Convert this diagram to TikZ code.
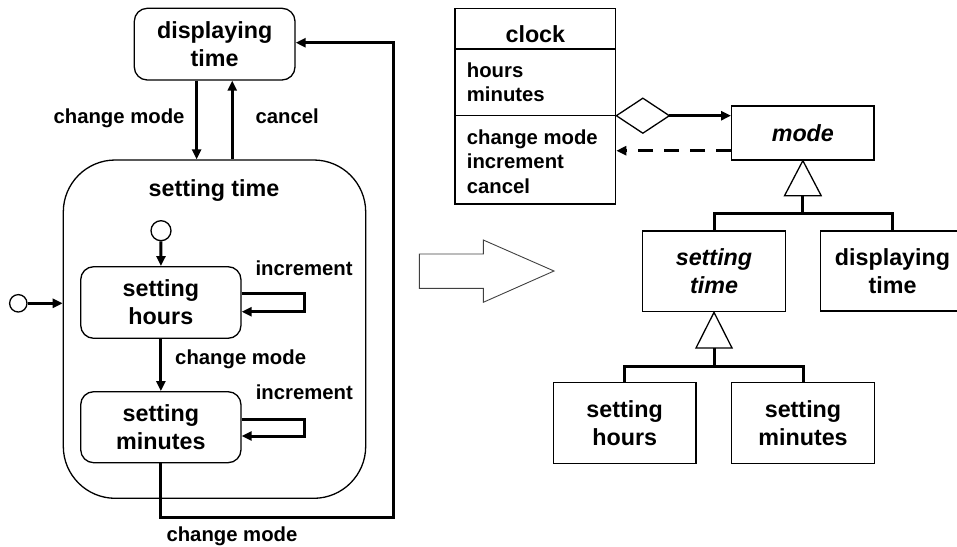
\documentclass[tikz,border=0pt]{standalone}
\usepackage{fontspec}
\setmainfont{Liberation Sans}
\usetikzlibrary{arrows.meta}
\tikzset{
  big/.style={font=\bfseries\fontsize{23.3}{28.3}\selectfont},
  bigit/.style={font=\bfseries\itshape\fontsize{23.3}{28.3}\selectfont},
  small/.style={font=\bfseries\fontsize{20.3}{24.5}\selectfont},
  thin/.style={line width=1.3pt},
  state/.style={draw, thin, rounded corners=13pt, inner sep=0pt, align=center, big},
  cls/.style={draw, thin, inner sep=0pt, align=center, big},
  arr/.style={line width=3pt, -{Triangle[length=10pt,width=9pt]}},
  link/.style={line width=3pt},
  init/.style={circle, draw, thin, fill=white, inner sep=0pt},
  hollow/.style={thin, fill=white, line join=miter}
}
\begin{document}
\begin{tikzpicture}[x=1pt,y=1pt]
\useasboundingbox (0,0) rectangle (957,-546);
\clip (0,0) rectangle (957,-546);

% ---------------- state machine ----------------
\node[state, minimum width=160.7pt, minimum height=71.7pt] (dt) at (214.65,-44.15) {displaying\\time};
\node[draw, thin, rounded corners=52pt, minimum width=302.4pt, minimum height=338.3pt, inner sep=0pt] (st) at (214.5,-329.15) {};
\node[big, anchor=base] (stl) at (214,-196.7) {setting time};
\node[state, minimum width=160.3pt, minimum height=71.6pt] (sh) at (160.85,-302.5) {setting\\hours};
\node[state, minimum width=160.3pt, minimum height=71pt] (sm) at (160.85,-427.2) {setting\\minutes};
\node[init, minimum size=20pt] (i1) at (161,-230.7) {};
\node[init, minimum size=17.4pt] (i0) at (18.3,-303.3) {};

% transitions between displaying and setting time
\coordinate (cmx) at ([xshift=-18pt]dt.south);
\coordinate (cax) at ([xshift=17.6pt]dt.south);
\draw[arr] (cmx) -- (cmx |- st.north);
\draw[arr] (cax |- st.north) -- (cax);
\node[small, anchor=base east] (lcm1) at (188,-123) {change mode};
\node[small, anchor=base west] (lcan) at (252,-123) {cancel};

% initial pseudostates
\draw[arr] (i1) -- (sh);
\draw[arr] (i0) -- (i0 -| st.west);

% self loops
\draw[arr] ([yshift=9.2pt]sh.east) -- ++(63,0) |- ([yshift=-9.2pt]sh.east);
\draw[arr] ([yshift=8.2pt]sm.east) -- ++(63,0) |- ([yshift=-8.8pt]sm.east);
\node[small, anchor=base west] (inc1) at (252,-275) {increment};
\node[small, anchor=base west] (inc2) at (252.3,-399.3) {increment};

% hours -> minutes
\draw[arr] (sh) -- (sm);
\node[small, anchor=base west] (lcm2) at (171.7,-364) {change mode};

% minutes -> displaying
\coordinate (ret) at (393.3,-42.7);
\draw[arr, line join=miter] (sm.south) -- ++(0,-54) -| (ret) -- (ret -| dt.east);
\node[small, anchor=base west] (lcm3) at (163,-541.7) {change mode};

% ---------------- transformation arrow ----------------
\draw[line width=0.9pt, draw=black!75, line join=miter]
  (419.3,-254) -- (483.3,-254) -- (483.3,-240) -- (554,-271)
  -- (483.3,-302.3) -- (483.3,-288.3) -- (419.3,-288.3) -- cycle;

% ---------------- class diagram ----------------
\node[draw, thin, minimum width=160.7pt, minimum height=195.7pt, inner sep=0pt] (clock) at (535.35,-106.15) {};
\coordinate (ya) at (0,-49);
\coordinate (yb) at (0,-115.7);
\draw[thin] (clock.west |- ya) -- (clock.east |- ya);
\draw[thin] (clock.west |- yb) -- (clock.east |- yb);
\node[big, anchor=base] (clockname) at (535.35,-42.7) {clock};
\node[small, anchor=west, align=left, inner sep=0pt] (clockattr) at (466.7,-82.3) {hours\\minutes};
\node[small, anchor=west, align=left, inner sep=0pt] (clockops) at (466.7,-161.25) {change mode\\increment\\cancel};

\node[cls, bigit, minimum width=142.3pt, minimum height=54pt] (mode) at (802.85,-133) {mode};

% aggregation and dependency
\draw[hollow] (clock.east |- yb) -- ++(26.5,17.5) -- ++(26.5,-17.5) coordinate (dr) -- ++(-26.5,-17.5) -- cycle;
\draw[arr] (dr) -- (dr -| mode.west);
\coordinate (dep) at ([yshift=-17.7pt]mode.west);
\draw[arr, dash pattern=on 15pt off 11pt] (dep) -- (dep -| clock.east);

% subclasses
\node[cls, bigit, minimum width=143.4pt, minimum height=80.7pt] (rst) at (714,-271.35) {setting\\time};
\node[cls, minimum width=143.6pt, minimum height=80pt] (rdt) at (892.5,-271) {displaying\\time};
\node[cls, minimum width=142.7pt, minimum height=80.6pt] (rsh) at (624.65,-423) {setting\\hours};
\node[cls, minimum width=142.6pt, minimum height=80.6pt] (rsm) at (803,-423) {setting\\minutes};

% generalization: mode
\draw[hollow] (mode.south) -- ++(18.3,-35) -- ++(-36.6,0) -- cycle;
\coordinate (g1) at ([yshift=-35pt]mode.south);
\coordinate (j1) at ([yshift=-18.3pt]g1);
\draw[link] (g1) -- (j1);
\draw[link, line join=miter] (rst.north) |- (j1) -| (rdt.north);

% generalization: setting time
\draw[hollow] (rst.south) -- ++(18,-35.6) -- ++(-36,0) -- cycle;
\coordinate (g2) at ([yshift=-35.6pt]rst.south);
\coordinate (j2) at ([yshift=-18.7pt]g2);
\draw[link] (g2) -- (j2);
\draw[link, line join=miter] (rsh.north) |- (j2) -| (rsm.north);
\end{tikzpicture}
\end{document}
